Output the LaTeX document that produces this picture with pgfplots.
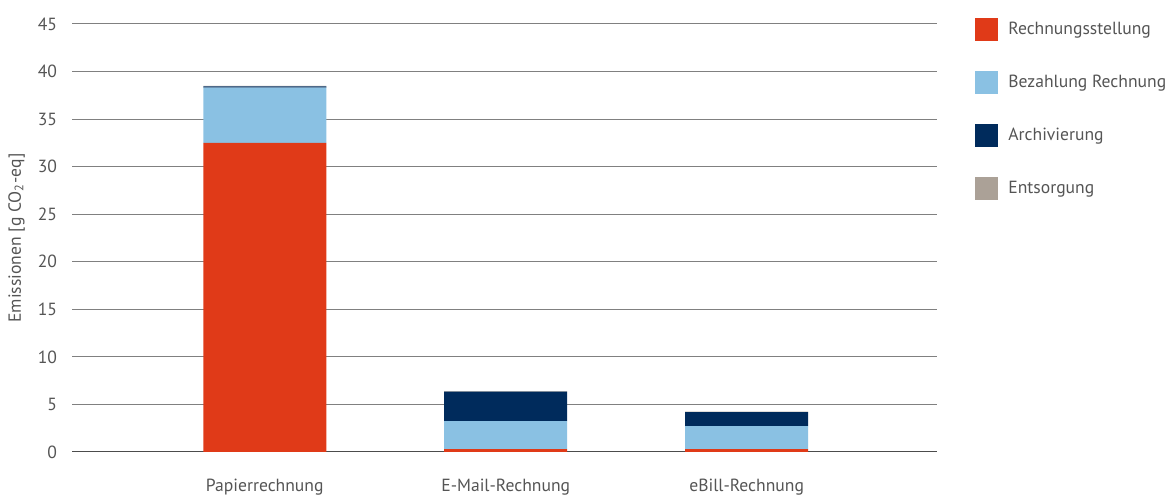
\documentclass[border=0pt]{standalone}
\usepackage{pgfplots}
\pgfplotsset{compat=1.18}
\usepackage{fontspec}
\setmainfont{PT Sans}
\definecolor{cRed}{HTML}{E03A18}
\definecolor{cLight}{HTML}{8AC1E3}
\definecolor{cNavy}{HTML}{002B5C}
\definecolor{cGray}{HTML}{ABA197}
\definecolor{txt}{HTML}{555555}
\begin{document}
\begin{tikzpicture}[font=\fontsize{8.8}{10}\selectfont, text=txt]
\useasboundingbox (0,0) rectangle (587.5pt,248.5pt);
\begin{axis}[
  at={(36pt,22.5pt)}, anchor=south west,
  width=432.5pt, height=214pt, scale only axis,
  ybar stacked, bar width=61.5pt,
  xmin=-0.8, xmax=2.79, ymin=0, ymax=45,
  xtick={0,1,2}, xticklabels={Papierrechnung,E-Mail-Rechnung,eBill-Rechnung},
  ytick={0,5,...,45},
  axis line style={draw=none},
  major tick length=0pt,
  ymajorgrids, grid style={draw=black!50, line width=0.5pt},
  yticklabel style={text=txt, xshift=-4pt},
  xticklabel style={text=txt, yshift=-10pt},
  /pgf/number format/assume math mode=true,
  ylabel={Emissionen [g CO\textsubscript{2}-eq]},
  ylabel style={at={(axis description cs:-0.064,0.5)}, anchor=center, text=txt},
  legend style={at={(axis description cs:1,1)}, anchor=north west, xshift=19pt, yshift=3pt,
    draw=none, fill=none, inner sep=0pt, row sep=15pt, text=txt,
    nodes={inner sep=1.5pt}},
  legend cell align=left,
  legend image code/.code={\fill[#1] (0pt,-5.75pt) rectangle (11.5pt,5.75pt); \path (15pt,0pt);},
]
\addplot[fill=cRed, draw=none] coordinates {(0,32.5) (1,0.3) (2,0.3)};
\addplot[fill=cLight, draw=none] coordinates {(0,5.8) (1,2.95) (2,2.43)};
\addplot[fill=cNavy, draw=none] coordinates {(0,0.15) (1,3.1) (2,1.47)};
\addplot[fill=cGray, draw=none] coordinates {(0,0.05) (1,0.05) (2,0.05)};
\legend{Rechnungsstellung, Bezahlung Rechnung, Archivierung, Entsorgung}
\draw[black!70, line width=1pt] (axis cs:-0.8,0) -- (axis cs:2.79,0);
\end{axis}
\end{tikzpicture}
\end{document}
